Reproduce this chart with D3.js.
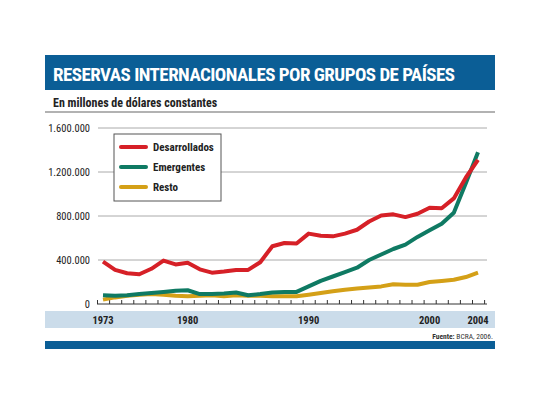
<!DOCTYPE html><html><head><meta charset="utf-8"><script src="https://cdn.jsdelivr.net/npm/d3@7"></script>
<style>body{margin:0;background:#fff}svg{font-family:"Roboto Condensed","Liberation Sans Narrow",Roboto,sans-serif}</style></head><body><svg id="c" width="540" height="405"></svg>
<script>
const years=d3.range(1973,2005);
const desarrollados=[385,310,280,270,320,395,360,375,315,285,295,310,310,380,525,555,550,640,620,615,640,675,750,805,815,790,820,875,870,960,1150,1310];
const emergentes=[80,75,80,90,100,110,120,125,90,90,95,105,80,90,105,110,110,160,210,250,290,330,400,450,500,540,610,670,730,830,1100,1380];
const resto=[40,60,75,85,90,85,75,70,75,80,70,80,75,75,70,70,70,85,100,115,130,140,150,160,180,175,175,200,210,220,245,285];
const yTicks=[0,400000,800000,1200000,1600000];
const xLabels=[1973,1980,1990,2000,2004];
const series=[["Desarrollados",desarrollados,"#d62027"],["Emergentes",emergentes,"#0f7a63"],["Resto",resto,"#d4a017"]];
const svg=d3.select("#c");
svg.append("rect").attr("x",45).attr("y",55).attr("width",450).attr("height",35).attr("fill","#0b5e96");
svg.append("text").attr("x",53).attr("y",81).attr("fill","#fff").attr("font-size",19).attr("font-weight","bold").attr("textLength",402).text("RESERVAS INTERNACIONALES POR GRUPOS DE PAÍSES");
svg.append("text").attr("x",53).attr("y",107).attr("font-size",12).attr("font-weight","bold").attr("fill","#222").text("En millones de dólares constantes");
svg.append("line").attr("x1",45).attr("x2",495).attr("y1",112).attr("y2",112).attr("stroke","#999").attr("stroke-width",1.5);
const x=d3.scaleLinear().domain([1973,2004]).range([103,478]);
const y=d3.scaleLinear().domain([0,1600000]).range([304,128]);
const fmt=d=>d3.format(",")(d).replace(/,/g,".");
yTicks.forEach(t=>{
 if(t>0)svg.append("line").attr("x1",98).attr("x2",487).attr("y1",y(t)).attr("y2",y(t)).attr("stroke","#aaa");
 svg.append("text").attr("x",90).attr("y",y(t)+4).attr("text-anchor","end").attr("font-size",10.5).attr("fill","#222").text(fmt(t));
});
svg.append("rect").attr("x",45).attr("y",311).attr("width",450).attr("height",17).attr("fill","#cbdcea");
const ax=svg.append("g").attr("transform","translate(-6,304)").call(d3.axisBottom(x).tickValues(d3.range(1973,2006)).tickSize(-4).tickFormat(""));
ax.select(".domain").remove();
ax.selectAll("line").attr("stroke","#333");
svg.append("line").attr("x1",97).attr("x2",487).attr("y1",304).attr("y2",304).attr("stroke","#333");
xLabels.forEach(v=>svg.append("text").attr("x",x(v)).attr("y",324).attr("text-anchor","middle").attr("font-size",10.5).attr("font-weight","bold").attr("fill","#222").text(v));
const line=d3.line().x((d,i)=>x(years[i])).y(d=>y(d*1000)).curve(d3.curveLinear);
[series[2],series[1],series[0]].forEach(s=>svg.append("path").attr("d",line(s[1])).attr("fill","none").attr("stroke",s[2]).attr("stroke-width",4).attr("stroke-linejoin","round"));
svg.append("rect").attr("x",114).attr("y",134).attr("width",107).attr("height",67).attr("fill","#fff").attr("stroke","#555");
series.forEach((s,i)=>{
 const yy=147+i*20;
 svg.append("line").attr("x1",121).attr("x2",146).attr("y1",yy).attr("y2",yy).attr("stroke",s[2]).attr("stroke-width",4).attr("stroke-linecap","round");
 svg.append("text").attr("x",153).attr("y",yy+4).attr("font-size",11).attr("font-weight","bold").attr("fill","#222").text(s[0]);
});
const f=svg.append("text").attr("x",493).attr("y",339).attr("text-anchor","end").attr("font-size",7.5).attr("fill","#333");
f.append("tspan").attr("font-weight","bold").text("Fuente: ");f.append("tspan").text("BCRA, 2006.");
svg.append("rect").attr("x",45).attr("y",341).attr("width",450).attr("height",8).attr("fill","#0b5e96");
</script></body></html>
